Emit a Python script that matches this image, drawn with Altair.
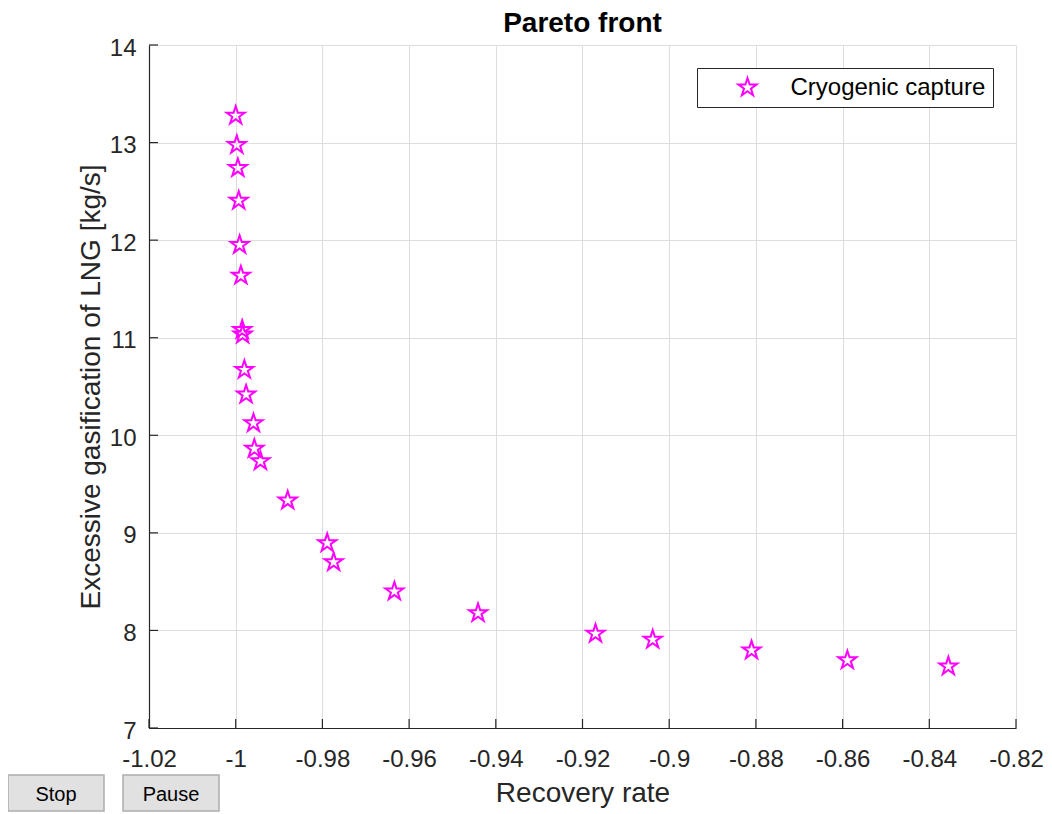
import altair as alt
import pandas as pd

# ---- data ----
recovery = [-1.0000, -0.99975, -0.9995, -0.9993, -0.9991, -0.9988, -0.9985, -0.9984,
            -0.9980, -0.9976, -0.9959, -0.9957, -0.9943, -0.9880, -0.9789, -0.9774,
            -0.9634, -0.9441, -0.9170, -0.9038, -0.8810, -0.8589, -0.8356]
gasification = [13.276, 12.976, 12.74, 12.405, 11.951, 11.637, 11.081, 11.033,
                 10.671, 10.418, 10.124, 9.862, 9.735, 9.332, 8.895, 8.70,
                 8.40, 8.178, 7.967, 7.906, 7.796, 7.694, 7.632]
series_name = "Cryogenic capture"
chart_title = ["Pareto front"]
x_ticks = [-1.02, -1.0, -0.98, -0.96, -0.94, -0.92, -0.9, -0.88, -0.86, -0.84, -0.82]
y_ticks = [7, 8, 9, 10, 11, 12, 13, 14]
buttons = ["Stop", "Pause"]

W, H = 867, 683
FONT = "Liberation Sans"
AX = "#262626"
GRID = "#dedede"
MAGENTA = "#ff00ff"
STAR = ("M0,-1L0.2245,-0.309L0.951,-0.309L0.363,0.118L0.588,0.809L0,0.382"
        "L-0.588,0.809L-0.363,0.118L-0.951,-0.309L-0.2245,-0.309Z")

df = pd.DataFrame({"recovery": recovery, "gas": gasification,
                   "series": [series_name] * len(recovery)})
xscale = alt.Scale(domain=[-1.02, -0.82], nice=False, zero=False)
yscale = alt.Scale(domain=[7, 14], nice=False, zero=False)

x_axis = alt.Axis(values=x_ticks, labelExpr="toString(datum.value)", title="Recovery rate",
                  domainColor=AX, domainWidth=1.2, ticks=False, tickSize=0,
                  grid=True, gridColor=GRID, gridWidth=1,
                  labelFont=FONT, labelFontSize=24, labelColor=AX, labelPadding=19,
                  labelFlush=False, labelOverlap=False,
                  titleFont=FONT, titleFontSize=28, titleFontWeight="normal", titleColor=AX,
                  titleY=73, titleBaseline="alphabetic")
y_axis = alt.Axis(values=y_ticks, labelExpr="toString(datum.value)",
                  title="Excessive gasification of LNG [kg/s]",
                  domainColor=AX, domainWidth=1.2, ticks=False, tickSize=0,
                  grid=True, gridColor=GRID, gridWidth=1,
                  labelFont=FONT, labelFontSize=24, labelColor=AX, labelPadding=13,
                  labelOffset=3, labelOverlap=False,
                  titleFont=FONT, titleFontSize=28, titleFontWeight="normal", titleColor=AX,
                  titleX=-50, titleBaseline="alphabetic")

legend = alt.Legend(orient="none", legendX=548, legendY=23, fillColor="white",
                    strokeColor=AX, padding=7.5, symbolType=STAR, symbolSize=361,
                    symbolStrokeWidth=2, symbolOffset=31, labelOffset=31,
                    labelFont=FONT, labelFontSize=24, labelColor="black", labelLimit=400)

points = alt.Chart(df).mark_point(shape=STAR, filled=False, size=361, strokeWidth=2,
                                  opacity=1).encode(
    x=alt.X("recovery:Q", scale=xscale, axis=x_axis),
    y=alt.Y("gas:Q", scale=yscale, axis=y_axis),
    color=alt.Color("series:N", scale=alt.Scale(domain=[series_name], range=[MAGENTA]),
                    legend=legend, title=None),
)

xt = alt.Chart(pd.DataFrame({"recovery": x_ticks})).mark_rule(color=AX, strokeWidth=1.2).encode(
    x=alt.X("recovery:Q", scale=xscale), y=alt.value(H), y2=alt.value(H - 9))
yt = alt.Chart(pd.DataFrame({"gas": y_ticks})).mark_rule(color=AX, strokeWidth=1.2).encode(
    y=alt.Y("gas:Q", scale=yscale), x=alt.value(0), x2=alt.value(9))

title = alt.Chart(pd.DataFrame({"t": chart_title})).mark_text(
    font=FONT, fontSize=28, fontWeight="bold", color="black", align="center",
    baseline="alphabetic").encode(x=alt.value(W / 2), y=alt.value(-13.5), text="t:N")

def button(label, x0, x1):
    d = pd.DataFrame({"label": [label]})
    r = alt.Chart(d).mark_rect(fill="#e1e1e1", stroke="#adadad", strokeWidth=1.5).encode(
        x=alt.value(x0), x2=alt.value(x1), y=alt.value(730), y2=alt.value(766))
    t = alt.Chart(d).mark_text(font=FONT, fontSize=20, color="black", align="center",
                               baseline="middle").encode(
        x=alt.value((x0 + x1) / 2), y=alt.value(750), text="label:N")
    return [r, t]

layers = [points, xt, yt, title] + button(buttons[0], -141, -45) + button(buttons[1], -26, 70)

chart = alt.layer(*layers).properties(
    width=W, height=H,
    autosize=alt.AutoSizeParams(type="none"),
    padding={"left": 141, "top": 37, "right": 28, "bottom": 85},
).configure_view(stroke="transparent")

chart.save("out.html", embed_options={"renderer": "svg", "actions": False})
